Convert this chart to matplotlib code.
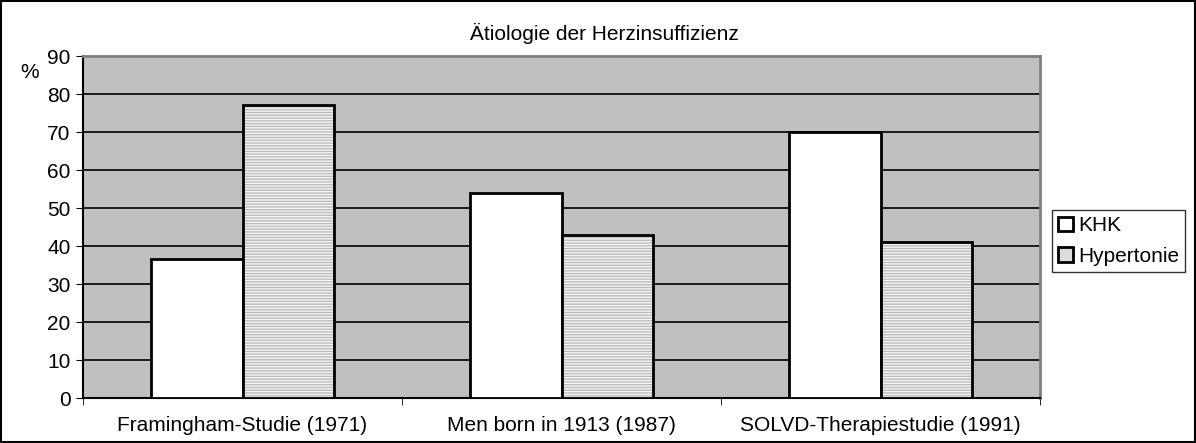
import matplotlib.pyplot as plt
from matplotlib.patches import Patch, Rectangle
import numpy as np

plt.rcParams['font.family'] = ['Liberation Sans', 'DejaVu Sans']

# Daten
studien = ['Framingham-Studie (1971)', 'Men born in 1913 (1987)', 'SOLVD-Therapiestudie (1991)']
khk = [36.5, 54, 70]
hypertonie = [77, 43, 41]
y_ticks = [0, 10, 20, 30, 40, 50, 60, 70, 80, 90]

W, H = 1196, 443
fs = 15
fig = plt.figure(figsize=(W / 100, H / 100), dpi=100)
ax = fig.add_axes([83 / W, (H - 398) / H, (1040 - 83) / W, (398 - 56) / H])
ax.set_facecolor('#c0c0c0')

x = np.arange(len(studien))
bw = 0.288

# KHK: weiss
ax.bar(x - bw / 2, khk, bw, color='white', edgecolor='black', linewidth=2, zorder=3)
# Hypertonie: fein gemustert
ax.bar(x + bw / 2, hypertonie, bw, color='#f4f4f4', edgecolor='#bdbdbd', linewidth=0,
       hatch='------', zorder=3)
ax.bar(x + bw / 2, hypertonie, bw, fill=False, edgecolor='black', linewidth=2, zorder=4)

ax.set_xlim(-0.5, len(studien) - 0.5)
ax.set_ylim(0, 90)
ax.set_yticks(y_ticks)
ax.yaxis.grid(True, color='black', linewidth=1.2)
ax.set_axisbelow(True)
ax.set_xticks(x)
ax.set_xticklabels(studien)
ax.set_xticks([-0.5, 0.5, 1.5, 2.5], minor=True)
ax.tick_params(axis='x', which='major', length=0, pad=13, labelsize=fs)
ax.tick_params(axis='x', which='minor', length=5, direction='out')
ax.tick_params(axis='y', length=5, direction='out', labelsize=fs, pad=4)

ax.spines['left'].set_linewidth(1.5)
ax.spines['bottom'].set_linewidth(1.5)
ax.spines['top'].set_color('#808080')
ax.spines['right'].set_color('#808080')
ax.spines['top'].set_linewidth(2)
ax.spines['right'].set_linewidth(2)

fig.text(604 / W, (H - 33) / H, 'Ätiologie der Herzinsuffizienz', ha='center', va='center', fontsize=fs)
fig.text(30 / W, (H - 73) / H, '%', ha='center', va='center', fontsize=fs)

handles = [Patch(facecolor='white', edgecolor='black', linewidth=2, label='KHK'),
           Patch(facecolor='#dcdcdc', edgecolor='black', linewidth=2, label='Hypertonie')]
leg = fig.legend(handles=handles, loc='center left', bbox_to_anchor=(1052 / W, (H - 241) / H),
                 fontsize=fs, frameon=True, fancybox=False, handlelength=0.7, handleheight=0.7,
                 handletextpad=0.25, borderpad=0.3, labelspacing=0.55, borderaxespad=0)
leg.get_frame().set_edgecolor('black')
leg.get_frame().set_linewidth(1)

fig.patches.append(Rectangle((0.001, 0.002), 0.998, 0.996, transform=fig.transFigure,
                             fill=False, edgecolor='black', linewidth=1.5))

fig.savefig('out.png', dpi=100)
